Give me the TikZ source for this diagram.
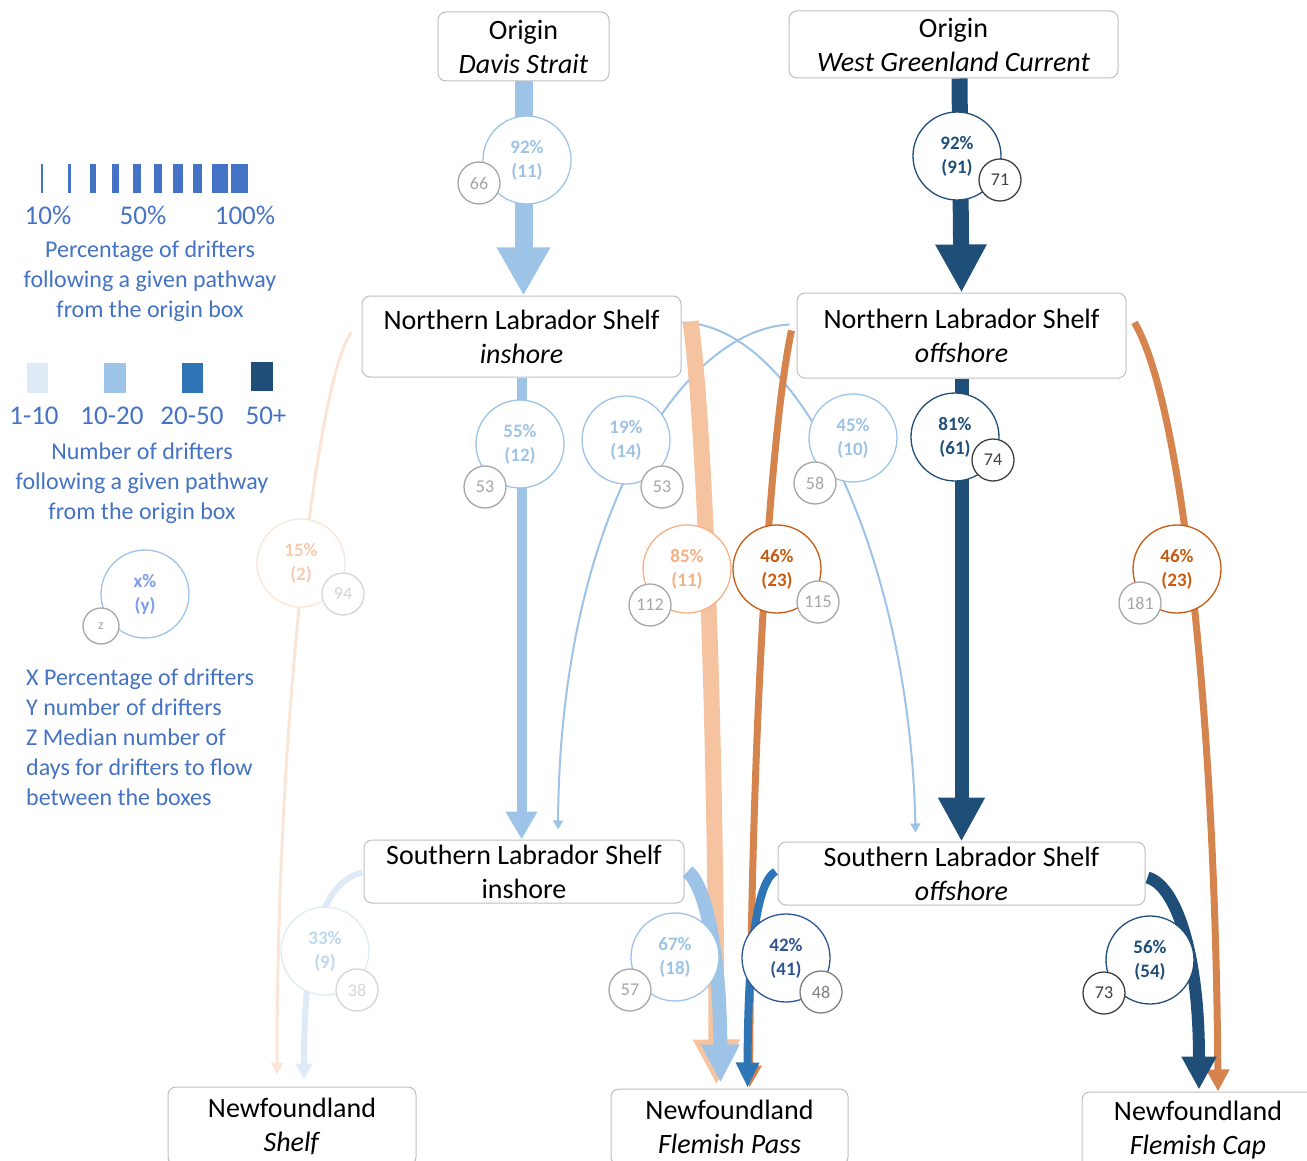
\documentclass[tikz,border=0pt]{standalone}
\usepackage{fontspec}
\setmainfont{Carlito}
\usetikzlibrary{arrows.meta,calc}

\definecolor{palblue}{HTML}{DEEBF7}
\definecolor{lblue}{HTML}{9DC3E6}
\definecolor{mblue}{HTML}{2E75B6}
\definecolor{dblue}{HTML}{1F4E79}
\definecolor{ringblue}{HTML}{2F5597}
\definecolor{palorange}{HTML}{FBE5D6}
\definecolor{palortext}{HTML}{F8CBAD}
\definecolor{palbltext}{HTML}{BDD7EE}
\definecolor{lorange}{HTML}{F4B183}
\definecolor{lorarrow}{HTML}{F6C3A0}
\definecolor{dorange}{HTML}{D5844E}
\definecolor{rust}{HTML}{C55A11}
\definecolor{keyblue}{HTML}{4472C4}
\definecolor{boxgray}{HTML}{BFBFBF}
\definecolor{ringgray}{HTML}{A6A6A6}
\definecolor{ringpale}{HTML}{D5D5D5}
\definecolor{ringmid}{HTML}{7F7F7F}
\definecolor{ringdark}{HTML}{404040}

\tikzset{
  region/.style={draw=boxgray, line width=1pt, rounded corners=8pt, fill=white,
    align=center, inner sep=0pt, font=\fontsize{28}{34}\selectfont},
  bigring/.style={circle, draw=#1, text=#1, fill=white, line width=1.3pt,
    minimum size=88pt, inner sep=0pt, align=center, font=\bfseries\fontsize{19}{24}\selectfont},
  smallring/.style={circle, draw=#1, text=#1, fill=white, line width=1.3pt,
    minimum size=42pt, inner sep=0pt, font=\fontsize{18}{20}\selectfont},
  smallring/.default=ringgray,
  key/.style={text=keyblue, align=center, inner sep=0pt, font=\fontsize{24}{30}\selectfont},
  flow/.style n args={4}{draw=#1, line width=#2, -{Triangle[width=#3,length=#4]}}
}

\begin{document}
\begin{tikzpicture}[x=1pt,y=-1pt]
  \useasboundingbox (0,0) rectangle (1307,1161);

  \foreach \cx/\w in {42/2,69.3/3.3,92.5/6,115.8/7,137.2/7.7,158/8.6,178/9.4,197.5/9.6,220/16.6,239.5/17.6}
    \fill[keyblue] ({\cx-\w/2},164) rectangle ({\cx+\w/2},193);
  \node[key, font=\fontsize{27}{30}\selectfont] (k10) at (48,215) {10\%};
  \node[key, font=\fontsize{27}{30}\selectfont] (k50) at (143,215) {50\%};
  \node[key, font=\fontsize{27}{30}\selectfont] (k100) at (245,215) {100\%};
  \node[key] (keypct) at (150,281) {Percentage of drifters\\following a given pathway\\from the origin box};

  \fill[palblue] (27,363) rectangle (48,393);
  \fill[lblue] (104,363) rectangle (126,393);
  \fill[mblue] (182,363) rectangle (203,393);
  \fill[dblue] (251,362) rectangle (273,391);
  \node[key, font=\fontsize{27}{30}\selectfont] (c1) at (34,416) {1-10};
  \node[key, font=\fontsize{27}{30}\selectfont] (c2) at (112,416) {10-20};
  \node[key, font=\fontsize{27}{30}\selectfont] (c3) at (192,416) {20-50};
  \node[key, font=\fontsize{27}{30}\selectfont] (c4) at (266,416) {50+};
  \node[key] (keynum) at (142,483) {Number of drifters\\following a given pathway\\from the origin box};

  \node[bigring=lblue, text=lblue!80!blue] (keyring) at (145,594) {x\%\\(y)};
  \node[smallring, minimum size=36pt, font=\fontsize{14}{16}\selectfont] (keyz) at (101,626) {z};
  \node[key, align=left, anchor=west] (keyxyz) at (26,737)
    {X Percentage of drifters\\Y number of drifters\\Z Median number of\\days for drifters to flow\\between the boxes};

  \node[region, minimum width=171pt, minimum height=69pt] (davis) at (523.5,46.5) {Origin\\\textit{Davis Strait}};
  \node[region, minimum width=329pt, minimum height=67pt] (wgc) at (953.5,44.5) {Origin\\\textit{West Greenland Current}};
  \node[region, minimum width=319pt, minimum height=81pt] (nlsi) at (521.5,336.5) {Northern Labrador Shelf\\\textit{inshore}};
  \node[region, minimum width=329pt, minimum height=85pt] (nlso) at (961.5,335.5) {Northern Labrador Shelf\\\textit{offshore}};
  \node[region, minimum width=320pt, minimum height=63pt] (slsi) at (524,871.5) {Southern Labrador Shelf\\inshore};
  \node[region, minimum width=367pt, minimum height=63pt] (slso) at (961.5,873.5) {Southern Labrador Shelf\\\textit{offshore}};
  \node[region, minimum width=248pt, minimum height=78pt] (nfs) at (292,1126) {Newfoundland\\\textit{Shelf}};
  \node[region, minimum width=237pt, minimum height=76pt] (nffp) at (729.5,1127) {Newfoundland\\\textit{Flemish Pass}};
  \node[region, minimum width=232pt, minimum height=76pt] (nfcap) at (1198,1130) {Newfoundland\\\textit{Flemish Cap}};

  \draw[flow={palorange}{3pt}{12pt}{12pt}] ($(nlsi.west)+(-10,-4)$) .. controls (320,370) and (277,700) .. ($(nfs.north)+(-15,-12)$);
  \draw[flow={palblue}{6pt}{16pt}{16pt}] ($(slsi.west)+(-1,1)$) .. controls (330,880) and (304,920) .. ($(nfs.north)+(12,-7)$);
  \draw[flow={lblue}{18pt}{50pt}{48pt}] (davis.south) -- (davis.south |- nlsi.north);
  \draw[flow={dblue}{16pt}{48pt}{48pt}] ($(wgc.south -| nlso.north)+(-2,0)$) -- (nlso.north);
  \draw[flow={lblue}{10pt}{30pt}{28pt}] (nlsi.south) -- (nlsi.south |- slsi.north);
  \draw[flow={dblue}{14pt}{44pt}{44pt}] (nlso.south) -- (nlso.south |- slso.north);
  \draw[flow={lblue}{2pt}{10pt}{9pt}] ($(nlsi.east)+(1,-14)$) .. controls (800,325) and (910,560) .. ($(slso.north)+(-46,-9)$);
  \draw[flow={lblue}{2pt}{10pt}{9pt}] ($(nlso.west)+(-7,-11)$) .. controls (680,330) and (560,520) .. ($(slsi.north)+(34,-10)$);
  \draw[flow={lorarrow}{16pt}{44pt}{45pt}] ($(nlsi.north east)+(9,26)$) .. controls (705,420) and (716,750) .. ($(nffp.north)+(-13,-4)$);
  \draw[flow={dorange}{7pt}{23pt}{22pt}] ($(nlso.west)+(-5,-5)$) .. controls (772,420) and (752,700) .. ($(nffp.north)+(20,-1)$);
  \draw[flow={dorange}{7pt}{22pt}{22pt}] ($(nlso.north east)+(8,30)$) .. controls (1180,400) and (1215,700) .. ($(nfcap.north)+(20,0)$);
  \draw[flow={lblue}{14pt}{36pt}{38pt}] ($(slsi.east)+(3,0)$) .. controls (705,885) and (720,950) .. ($(nffp.north)+(-9,-6)$);
  \draw[flow={mblue}{8pt}{22pt}{25pt}] ($(slso.west)+(-2,-2)$) .. controls (760,880) and (748,930) .. ($(nffp.north)+(18,-1)$);
  \draw[flow={dblue}{12pt}{33pt}{33pt}] ($(slso.east)+(2,4)$) .. controls (1175,885) and (1199,950) .. ($(nfcap.north)+(1,-2)$);

  \node[bigring=lblue] (p1) at (527,160) {92\%\\(11)};
  \node[smallring] (d1) at (479,183) {66};
  \node[bigring=dblue] (p2) at (957,156) {92\%\\(91)};
  \node[smallring=ringdark] (d2) at (1000,180) {71};
  \node[bigring=lblue] (p3) at (520,444) {55\%\\(12)};
  \node[smallring] (d3) at (485,487) {53};
  \node[bigring=lblue] (p4) at (626,440) {19\%\\(14)};
  \node[smallring] (d4) at (662,487) {53};
  \node[bigring=lblue] (p5) at (853,438) {45\%\\(10)};
  \node[smallring] (d5) at (815,483) {58};
  \node[bigring=dblue] (p6) at (955,437) {81\%\\(61)};
  \node[smallring=ringdark] (d6) at (993,460) {74};
  \node[bigring=palorange, text=palortext] (p7) at (301,563) {15\%\\(2)};
  \node[smallring=ringpale] (d7) at (343,594) {94};
  \node[bigring=lorange] (p8) at (687,569) {85\%\\(11)};
  \node[smallring] (d8) at (650,605) {112};
  \node[bigring=rust] (p9) at (777,569) {46\%\\(23)};
  \node[smallring] (d9) at (818,602) {115};
  \node[bigring=rust] (p10) at (1177,569) {46\%\\(23)};
  \node[smallring] (d10) at (1140,603) {181};
  \node[bigring=palblue, text=palbltext] (p11) at (325,951) {33\%\\(9)};
  \node[smallring=ringpale] (d11) at (357,990) {38};
  \node[bigring=lblue] (p12) at (675,957) {67\%\\(18)};
  \node[smallring] (d12) at (630,990) {57};
  \node[bigring=ringblue] (p13) at (786,958) {42\%\\(41)};
  \node[smallring=ringmid] (d13) at (821,992) {48};
  \node[bigring=dblue] (p14) at (1150,960) {56\%\\(54)};
  \node[smallring=ringdark] (d14) at (1104,993) {73};
\end{tikzpicture}
\end{document}
